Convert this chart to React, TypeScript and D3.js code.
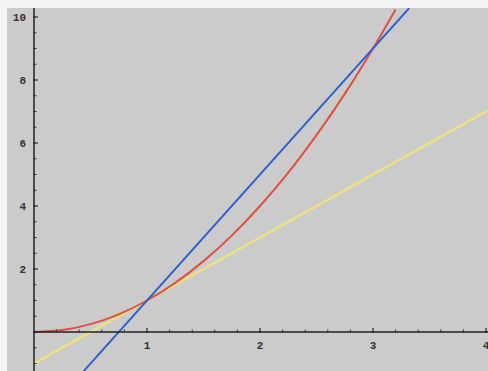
import React from "react";
import { scaleLinear, line, curveMonotoneX, range } from "d3";

// values
const parabola: [number, number][] = [
  [0, 0], [0.25, 0.06], [0.5, 0.25], [0.75, 0.56], [1, 1], [1.25, 1.56],
  [1.5, 2.25], [1.75, 3.06], [2, 4], [2.25, 5.06], [2.5, 6.25], [2.75, 7.56],
  [3, 9], [3.2, 10.24],
];
const secant: [number, number][] = [[0.44, -1.24], [3.32, 10.28]];
const tangent: [number, number][] = [[0, -1], [4.02, 7.04]];

const xTickLabels = [1, 2, 3, 4];
const yTickLabels = [2, 4, 6, 8, 10];

const W = 488;
const H = 371;

export default function App() {
  const x = scaleLinear().domain([0, 4]).range([34, 486]);
  const y = scaleLinear().domain([0, 10]).range([332, 17]);

  const path = line<[number, number]>()
    .x((d) => x(d[0]))
    .y((d) => y(d[1]));
  const curved = line<[number, number]>()
    .x((d) => x(d[0]))
    .y((d) => y(d[1]))
    .curve(curveMonotoneX);

  const xMinor = range(0, 4.01, 0.2).filter((v) => Math.abs(v - Math.round(v)) > 0.01);
  const yMinor = range(-1, 10.3, 0.5).filter((v) => Math.abs(v / 2 - Math.round(v / 2)) > 0.01);
  const yMajor = [0, ...yTickLabels];

  return (
    <svg
      width={W}
      height={H}
      style={{ position: "absolute", left: 0, top: 0 }}
      fontFamily="Liberation Mono, monospace"
    >
      <rect width={W} height={H} fill="#f4f4f4" />
      <rect x={7} y={8} width={W - 7} height={H - 8} fill="#cbcbcb" />
      <g clipPath="url(#plot)">
        <clipPath id="plot">
          <rect x={7} y={8} width={W - 7} height={H - 8} />
        </clipPath>
        <path d={path(tangent) || ""} fill="none" stroke="#eee27e" strokeWidth={2.4} />
        <path d={curved(parabola) || ""} fill="none" stroke="#de5040" strokeWidth={2} />
        <path d={path(secant) || ""} fill="none" stroke="#2d5fd0" strokeWidth={2} />
      </g>

      {/* axes */}
      <line x1={x(0)} x2={W} y1={y(0)} y2={y(0)} stroke="#222" strokeWidth={1.5} />
      <line x1={x(0)} x2={x(0)} y1={8} y2={H} stroke="#222" strokeWidth={1.5} />

      {xMinor.map((v) => (
        <line key={`xm${v}`} x1={x(v)} x2={x(v)} y1={y(0) - 2.5} y2={y(0) + 1} stroke="#333" />
      ))}
      {xTickLabels.map((v) => (
        <g key={`x${v}`}>
          <line x1={x(v)} x2={x(v)} y1={y(0) - 4} y2={y(0) + 1} stroke="#222" strokeWidth={1.2} />
          <text x={x(v)} y={y(0) + 17} textAnchor="middle" fontSize={11} fontWeight="bold" fill="#333">
            {v}
          </text>
        </g>
      ))}

      {yMinor.map((v) => (
        <line key={`ym${v}`} x1={x(0) - 1} x2={x(0) + 2.5} y1={y(v)} y2={y(v)} stroke="#333" />
      ))}
      {yMajor.map((v) => (
        <line key={`yM${v}`} x1={x(0) - 1} x2={x(0) + 4} y1={y(v)} y2={y(v)} stroke="#222" strokeWidth={1.2} />
      ))}
      {yTickLabels.map((v) => (
        <text key={`y${v}`} x={x(0) - 8} y={y(v) + 4} textAnchor="end" fontSize={11} fontWeight="bold" fill="#333">
          {v}
        </text>
      ))}
    </svg>
  );
}
